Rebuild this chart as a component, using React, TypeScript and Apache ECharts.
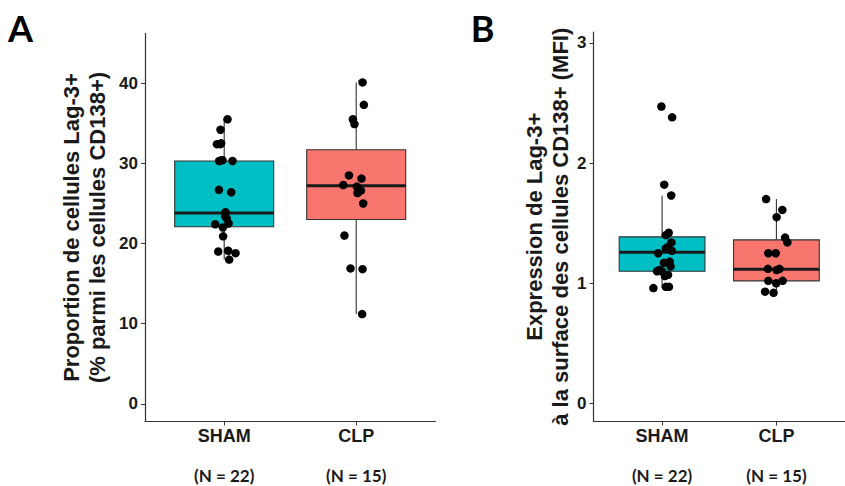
import React, { useEffect, useRef } from "react";
import * as echarts from "echarts";

// ---- Data ----
const groups = ["SHAM", "CLP"];
const groupN = [22, 15];
const groupColors = ["#00BFC4", "#F8766D"];

// Panel A: proportion of Lag-3+ cells (%)
const aShamValues = [35.5, 34.2, 32.4, 32.4, 30.3, 30.4, 30.3, 26.7, 26.4, 23.9, 23.1, 22.5, 22.4, 22.0, 20.9, 19.0, 19.1, 18.8, 18.0, 23.4, 32.5, 30.4];
const aShamJitter = [0.025, -0.028, -0.055, -0.03, -0.038, -0.013, 0.063, -0.04, 0.053, 0.01, 0.02, 0.033, -0.068, -0.01, -0.008, -0.045, 0.03, 0.086, 0.038, 0.008, -0.023, -0.019];
const aClpValues = [40.1, 37.3, 35.5, 34.9, 28.5, 28.1, 27.3, 27.1, 26.6, 26.3, 25.0, 21.0, 16.9, 16.8, 11.2];
const aClpJitter = [0.048, 0.058, -0.025, -0.013, -0.055, 0.04, -0.098, 0.005, 0.036, 0.01, 0.053, -0.089, -0.043, 0.048, 0.045];
// [lower whisker, Q1, median, Q3, upper whisker]
const aShamBox = [18.0, 22.1, 23.8, 30.3, 35.5];
const aClpBox = [11.2, 23.0, 27.2, 31.7, 40.1];
const aTicks = [0, 10, 20, 30, 40];

// Panel B: Lag-3 expression (MFI)
const bShamValues = [2.47, 2.38, 1.82, 1.73, 1.40, 1.42, 1.34, 1.29, 1.27, 1.25, 1.17, 1.14, 1.10, 1.10, 1.07, 0.96, 0.97, 0.97, 1.30, 1.18, 1.11, 1.06];
const bShamJitter = [-0.006, 0.088, 0.019, 0.08, 0.033, 0.058, 0.082, 0.033, 0.085, -0.035, 0.016, 0.074, -0.044, -0.002, 0.052, -0.076, 0.033, 0.06, 0.05, 0.066, -0.025, 0.025];
const bClpValues = [1.70, 1.61, 1.55, 1.38, 1.34, 1.25, 1.25, 1.12, 1.11, 1.12, 1.02, 1.00, 1.02, 0.93, 0.92];
const bClpJitter = [-0.09, 0.052, 0.002, 0.076, 0.096, -0.071, -0.006, -0.074, 0.002, 0.027, -0.071, -0.002, 0.055, -0.099, -0.025];
const bShamBox = [0.96, 1.10, 1.258, 1.386, 1.727];
const bClpBox = [0.92, 1.02, 1.117, 1.361, 1.70];
const bTicks = [0, 1, 2, 3];

const titleA = "Proportion de cellules Lag-3+\n(% parmi les cellules CD138+)";
const titleB = "Expression de Lag-3+\nà la surface des cellules CD138+ (MFI)";

const INK = "#1a1a1a";
const AXIS = "#333333";

function renderBox(params: any, api: any) {
  const x = api.value(0);
  const lo = api.coord([x, api.value(1)]);
  const q1 = api.coord([x, api.value(2)]);
  const med = api.coord([x, api.value(3)]);
  const q3 = api.coord([x, api.value(4)]);
  const hi = api.coord([x, api.value(5)]);
  const half = api.size([0.75, 0])[0] / 2;
  const cx = lo[0];
  const color = groupColors[params.dataIndex];
  return {
    type: "group",
    children: [
      { type: "line", shape: { x1: cx, y1: hi[1], x2: cx, y2: q3[1] }, style: { stroke: AXIS, lineWidth: 1.1 } },
      { type: "line", shape: { x1: cx, y1: q1[1], x2: cx, y2: lo[1] }, style: { stroke: AXIS, lineWidth: 1.1 } },
      {
        type: "rect",
        shape: { x: cx - half, y: q3[1], width: half * 2, height: q1[1] - q3[1] },
        style: { fill: color, stroke: AXIS, lineWidth: 1.1 },
      },
      { type: "line", shape: { x1: cx - half, y1: med[1], x2: cx + half, y2: med[1] }, style: { stroke: INK, lineWidth: 3 } },
    ],
  };
}

function xAxisFor(gridIndex: number) {
  return {
    gridIndex,
    type: "value",
    min: 0.4,
    max: 2.6,
    splitLine: { show: false },
    axisLine: { show: true, onZero: false, lineStyle: { color: AXIS, width: 1.2 } },
    axisTick: { show: true, customValues: [1, 2], length: 4, lineStyle: { color: AXIS } },
    axisLabel: {
      customValues: [1, 2],
      margin: 4,
      formatter: (v: number) => {
        const i = Math.round(v) - 1;
        return `{g|${groups[i]}}\n{n|(N = ${groupN[i]})}`;
      },
      rich: {
        g: { fontSize: 18, fontWeight: "bold", fontFamily: "Liberation Sans", color: INK, lineHeight: 20 },
        n: { fontSize: 17, fontWeight: "bold", fontFamily: "Lato", color: INK, lineHeight: 60 },
      },
    },
  };
}

function yAxisFor(gridIndex: number, min: number, max: number, ticks: number[], name: string, nameGap: number) {
  return {
    gridIndex,
    type: "value",
    min,
    max,
    name,
    nameLocation: "middle",
    nameRotate: 90,
    nameGap,
    nameTextStyle: { fontSize: 22, fontWeight: "bold", fontFamily: "Liberation Sans", color: INK, lineHeight: 26 },
    splitLine: { show: false },
    axisLine: { show: true, onZero: false, lineStyle: { color: AXIS, width: 1.2 } },
    axisTick: { show: true, customValues: ticks, length: 4, lineStyle: { color: AXIS } },
    axisLabel: {
      customValues: ticks,
      margin: 7,
      fontSize: 17,
      fontWeight: "bold",
      fontFamily: "Liberation Sans",
      color: INK,
    },
  };
}

function pointSeries(xi: number, yi: number, center: number, values: number[], jitter: number[]) {
  return {
    type: "scatter",
    xAxisIndex: xi,
    yAxisIndex: yi,
    symbol: "circle",
    symbolSize: 8.5,
    itemStyle: { color: "#000000", opacity: 1 },
    z: 5,
    data: values.map((v, i) => [center + jitter[i], v]),
  };
}

export default function App() {
  const ref = useRef<HTMLDivElement>(null);
  useEffect(() => {
    if (!ref.current) return;
    const chart = echarts.init(ref.current, undefined, { renderer: "svg" });
    chart.setOption({
      animation: false,
      backgroundColor: "#ffffff",
      grid: [
        { left: 145, top: 33.5, width: 290.4, height: 388 },
        { left: 593.5, top: 32, width: 267.7, height: 389.5 },
      ],
      xAxis: [xAxisFor(0), xAxisFor(1)],
      yAxis: [
        yAxisFor(0, -2.2, 46.2, aTicks, titleA, 35),
        yAxisFor(1, -0.15, 3.09, bTicks, titleB, 12),
      ],
      graphic: [
        { type: "text", x: 20.5, y: 28, style: { text: "A", fontSize: 36, fontWeight: "bold", fontFamily: "Lato", fill: "#000", align: "center", verticalAlign: "middle" } },
        { type: "text", x: 482.5, y: 28, style: { text: "B", fontSize: 36, fontWeight: "bold", fontFamily: "Lato", fill: "#000", align: "center", verticalAlign: "middle" } },
      ],
      series: [
        {
          type: "custom",
          xAxisIndex: 0,
          yAxisIndex: 0,
          renderItem: renderBox,
          encode: { x: 0, y: [1, 2, 3, 4, 5] },
          data: [[1, ...aShamBox], [2, ...aClpBox]],
          z: 2,
        },
        {
          type: "custom",
          xAxisIndex: 1,
          yAxisIndex: 1,
          renderItem: renderBox,
          encode: { x: 0, y: [1, 2, 3, 4, 5] },
          data: [[1, ...bShamBox], [2, ...bClpBox]],
          z: 2,
        },
        pointSeries(0, 0, 1, aShamValues, aShamJitter),
        pointSeries(0, 0, 2, aClpValues, aClpJitter),
        pointSeries(1, 1, 1, bShamValues, bShamJitter),
        pointSeries(1, 1, 2, bClpValues, bClpJitter),
      ],
    });
    return () => chart.dispose();
  }, []);
  return <div ref={ref} style={{ position: "absolute", left: 0, top: 0, width: 845, height: 486 }} />;
}
